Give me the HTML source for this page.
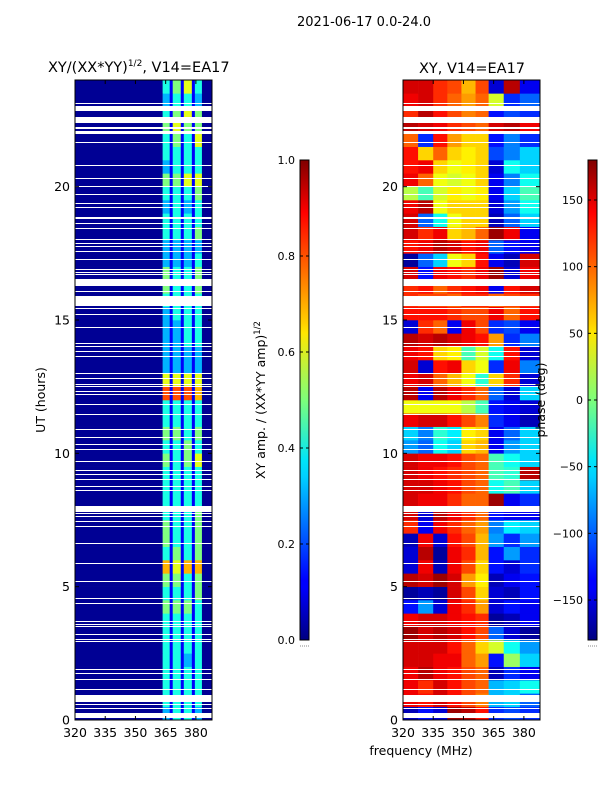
<!DOCTYPE html>
<html><head><meta charset="utf-8"><style>
body{margin:0;background:#fff;}
svg text{font-family:"DejaVu Sans","Liberation Sans",sans-serif;}
</style></head><body>
<svg id="fig" width="600" height="800" xmlns="http://www.w3.org/2000/svg">
<defs>
<linearGradient id="jetv" x1="0" y1="1" x2="0" y2="0">
<stop offset="0" stop-color="#000080"/><stop offset="0.11" stop-color="#0000ff"/><stop offset="0.125" stop-color="#0000ff"/>
<stop offset="0.34" stop-color="#00d0ff"/><stop offset="0.375" stop-color="#00e5f8"/><stop offset="0.5" stop-color="#7dff7a"/>
<stop offset="0.64" stop-color="#ffe600"/><stop offset="0.66" stop-color="#ffd000"/><stop offset="0.89" stop-color="#ff0000"/><stop offset="1" stop-color="#800000"/>
</linearGradient>
</defs>
<text x="364" y="26" font-size="13" text-anchor="middle">2021-06-17 0.0-24.0</text>
<g id="amp"></g>
<g id="phs"></g>
<g id="axes"></g>
</svg>
<script>
// ---- data ----
const freqMin = 320, freqMax = 388;
const hourMin = 0, hourMax = 24;
const xTicks = [320, 335, 350, 365, 380];
const yTicks = [0, 5, 10, 15, 20];
const ampTicks = [0.0, 0.2, 0.4, 0.6, 0.8, 1.0];
const phaseTicks = [-150, -100, -50, 0, 50, 100, 150];
// amplitude frequency bins (MHz edges)
const ampBinEdges = [320, 363.5, 367, 368.5, 372.5, 374, 378, 379.5, 383, 388];
// half-hour rows (0-0.5h first): 4 bright sub-band values (tenths)
const ampRows = [
"3443","4444","4444","4444","4434","4444","4444","4444","5554","4445","5545","7677","4545","5445","5445","4445","4444","4444","4444","5456","4454","5545","4444","4444",
"8887","6666","3333","3333","3344","3344","3444","4444","5445","5445","3334","3333","4445","4444","3434","4445","5566","3444","4444","4546","5655","4565","3443","4564"
];
const ampDark = [0.02, 0.12, 0.12, 0.12, 0.02];
const phaseBinEdges = [320, 327.5, 335, 342, 349, 356, 362.5, 370, 378, 388];
const phaseRows = [
[-160,-130,-150,170,160,130,-120,-110,-120],
[140,130,150,130,110,90,-70,-60,-100],
[140,120,150,130,110,100,-70,-60,-40],
[140,160,140,130,110,100,-160,-120,-140],
[150,150,140,140,100,80,-130,10,-60],
[150,150,150,130,100,60,30,-40,-80],
[170,150,160,150,130,110,-100,-150,-170],
[140,150,150,140,130,120,-170,-160,-140],
[-130,-80,-150,140,120,80,-150,-130,-140],
[-170,-160,-170,150,110,60,-150,-160,-130],
[160,150,170,150,80,50,-160,-140,-130],
[-150,140,-160,140,110,60,-130,-150,-120],
[-150,160,-170,140,120,70,-130,-80,-120],
[-160,140,-150,130,110,70,-80,-120,-80],
[120,-140,140,120,100,80,-90,-50,-60],
[150,-150,160,140,120,100,-130,-140,-140],
[150,140,140,120,100,100,170,-140,-120],
[150,150,140,130,110,100,-40,-20,-60],
[150,140,130,120,110,100,-20,-30,160],
[150,140,140,130,110,100,-20,-40,-60],
[-80,-100,-40,-60,60,70,-140,-80,-60],
[-60,-90,-30,-50,50,60,-140,-100,-60],
[140,150,150,130,110,90,-120,-140,-160],
[40,40,40,40,20,-20,-130,-140,-150],
[160,-140,160,140,120,100,-100,-150,-60],
[140,150,100,70,40,-30,60,120,-150],
[150,-150,130,140,60,40,-120,140,-90],
[140,130,60,50,-20,30,-40,130,-150],
[160,150,160,150,140,130,80,-120,-90],
[-150,120,100,-140,140,110,-120,-110,-140],
[130,130,130,120,110,110,140,100,130],
[120,110,110,100,120,120,100,110,120],
[120,130,100,120,130,140,-140,130,150],
[150,-130,140,130,120,140,170,-150,140],
[-170,-100,-60,40,60,130,-140,-160,150],
[130,140,160,150,130,140,-100,-130,-140],
[150,120,140,60,70,100,170,140,-140],
[150,-100,-40,40,60,60,-160,-100,-60],
[140,160,40,60,60,60,-150,-80,-40],
[20,-20,30,50,40,50,-140,-60,-20],
[140,100,40,30,40,60,-140,-90,-40],
[130,140,60,40,50,60,-150,-40,-60],
[130,60,100,60,50,60,-110,-90,-60],
[100,-120,130,80,60,60,-130,-90,-120],
[160,150,140,120,110,100,150,160,140],
[120,160,130,110,90,100,-130,-110,-120],
[140,150,120,100,80,100,30,-120,-100],
[150,150,120,110,70,110,-150,160,-140]
];
// flagged (blank) times: [center hour, thickness hours]
const gaps = [[23.10,0.05],[22.93,0.18],[22.51,0.22],[22.21,0.08],[22.04,0.12],[21.66,0.05],[20.78,0.05],[20.31,0.05],[20.0,0.05],[19.69,0.05],[19.38,0.05],[19.2,0.04],[18.84,0.06],[18.63,0.05],[18.41,0.05],[18.0,0.05],[17.88,0.04],[17.75,0.04],[17.56,0.05],[17.25,0.05],[16.88,0.04],[16.78,0.04],[16.69,0.04],[16.41,0.25],[16.06,0.05],[15.71,0.38],[15.44,0.05],[15.19,0.05],[14.72,0.05],[14.13,0.05],[14.0,0.04],[13.81,0.05],[13.63,0.05],[13.0,0.05],[12.81,0.05],[12.59,0.04],[12.49,0.04],[12.31,0.05],[12.19,0.04],[11.81,0.05],[11.44,0.05],[10.9,0.05],[10.6,0.05],[10.31,0.05],[10.13,0.04],[9.69,0.05],[9.35,0.04],[9.19,0.04],[9.0,0.05],[8.75,0.04],[8.6,0.04],[7.92,0.22],[7.75,0.05],[7.63,0.04],[7.44,0.05],[7.25,0.05],[6.6,0.05],[5.88,0.05],[5.19,0.05],[4.56,0.05],[4.38,0.04],[3.69,0.04],[3.59,0.04],[3.5,0.04],[3.21,0.05],[3.03,0.04],[2.94,0.04],[1.90,0.05],[1.73,0.05],[1.5,0.05],[1.15,0.05],[0.82,0.25],[0.56,0.05],[0.44,0.05],[0.16,0.2]];

// ---- layout ----
const NS = "http://www.w3.org/2000/svg";
const P1 = {x0:75, x1:212, y0:80, y1:720};
const P2 = {x0:403, x1:540, y0:80, y1:720};
function xs(p, f){ return p.x0 + (f - freqMin) / (freqMax - freqMin) * (p.x1 - p.x0); }
function ys(p, h){ return p.y1 - (h - hourMin) / (hourMax - hourMin) * (p.y1 - p.y0); }
function jet(v){
  v = Math.max(0, Math.min(1, v));
  const r = Math.max(0, Math.min(1, 1.5 - Math.abs(4*v - 3)));
  const g = Math.max(0, Math.min(1, 1.5 - Math.abs(4*v - 2)));
  const b = Math.max(0, Math.min(1, 1.5 - Math.abs(4*v - 1)));
  return `rgb(${Math.round(r*255)},${Math.round(g*255)},${Math.round(b*255)})`;
}
function mk(tag, attrs, parent){
  const e = document.createElementNS(NS, tag);
  for (const k in attrs) e.setAttribute(k, attrs[k]);
  parent.appendChild(e); return e;
}
const amp = document.getElementById('amp');
const phs = document.getElementById('phs');
const axes = document.getElementById('axes');
const rowH = (hourMax - hourMin) / ampRows.length;

ampRows.forEach((row, i) => {
  const h0 = i * rowH, h1 = h0 + rowH;
  const vals = [ampDark[0], +row[0]/10, ampDark[1], +row[1]/10, ampDark[2], +row[2]/10, ampDark[3], +row[3]/10, ampDark[4]];
  vals.forEach((v, j) => {
    const xa = xs(P1, ampBinEdges[j]), xb = xs(P1, ampBinEdges[j+1]);
    const r = mk('rect', {x:xa, y:ys(P1,h1), width:xb-xa+0.3, height:ys(P1,h0)-ys(P1,h1)+0.3, fill:jet(v)}, amp);
    
    
  });
});
phaseRows.forEach((row, i) => {
  const h0 = i * rowH, h1 = h0 + rowH;
  row.forEach((v, j) => {
    const xa = xs(P2, phaseBinEdges[j]), xb = xs(P2, phaseBinEdges[j+1]);
    const r = mk('rect', {x:xa, y:ys(P2,h1), width:xb-xa+0.3, height:ys(P2,h0)-ys(P2,h1)+0.3, fill:jet((v+180)/360)}, phs);
    
    
  });
});
gaps.forEach(g => {
  [P1, P2].forEach(p => {
    const yt = Math.round(ys(p, g[0]+g[1]/2));
    const hh = Math.max(1, Math.round(ys(p,g[0]-g[1]/2) - ys(p,g[0]+g[1]/2)));
    const r = mk('rect', {x:p.x0, y:yt, width:p.x1-p.x0, height:hh, fill:'#fff'}, p===P1?amp:phs);
    
    
  });
});

function text(str, attrs, name){
  const t = mk('text', attrs, axes); t.textContent = str;
  
  
  return t;
}
[P1, P2].forEach((p, k) => {
  const f = mk('rect', {x:p.x0, y:p.y0, width:p.x1-p.x0, height:p.y1-p.y0, fill:'none', stroke:'#000', 'stroke-width':1}, axes);
  
  
  xTicks.forEach(t => {
    const x = xs(p, t);
    mk('line', {x1:x, x2:x, y1:p.y1, y2:p.y1-4, stroke:'#000'}, axes);
    mk('line', {x1:x, x2:x, y1:p.y0, y2:p.y0+4, stroke:'#000'}, axes);
    text(String(t), {x:x, y:p.y1+17, 'font-size':12.5, 'text-anchor':'middle'}, 'x-tick-label');
  });
  yTicks.forEach(t => {
    const y = ys(p, t);
    mk('line', {x1:p.x0, x2:p.x0+4, y1:y, y2:y, stroke:'#000'}, axes);
    mk('line', {x1:p.x1, x2:p.x1-4, y1:y, y2:y, stroke:'#000'}, axes);
    text(String(t), {x:p.x0-5, y:y+4.5, 'font-size':12.5, 'text-anchor':'end'}, 'y-tick-label');
  });
});
text('XY/(XX*YY)', {x:48, y:72, 'font-size':14.5}, 'amp-panel-title').innerHTML = 'XY/(XX*YY)<tspan dy="-6" font-size="9">1/2</tspan><tspan dy="6">, V14=EA17</tspan>';
text('XY, V14=EA17', {x:472, y:73, 'font-size':14.5, 'text-anchor':'middle'}, 'phase-panel-title');
text('UT (hours)', {x:45, y:400, 'font-size':12.5, 'text-anchor':'middle', transform:'rotate(-90 45 400)'}, 'y-axis-title');
text('frequency (MHz)', {x:421, y:755, 'font-size':12.5, 'text-anchor':'middle'}, 'x-axis-title');
text('', {x:265, y:400, 'font-size':12.5, 'text-anchor':'middle', transform:'rotate(-90 265 400)'}, 'amp-colorbar-label').innerHTML = 'XY amp. / (XX*YY amp)<tspan dy="-5" font-size="8.5">1/2</tspan>';
text('phase (deg)', {x:545, y:400, 'font-size':12.5, 'text-anchor':'middle', transform:'rotate(-90 545 400)'}, 'phase-colorbar-label');

// colorbars
const CB1 = {x:300, w:9, y0:160, y1:640}, CB2 = {x:588, w:9, y0:160, y1:640};
[[CB1, ampTicks, 0, 1, 'amp-colorbar'], [CB2, phaseTicks, -180, 180, 'phase-colorbar']].forEach(([c, ticks, lo, hi, nm]) => {
  const r = mk('rect', {x:c.x, y:c.y0, width:c.w, height:c.y1-c.y0, fill:'url(#jetv)', stroke:'#000', 'stroke-width':1}, axes);
  
  
  mk('line', {x1:c.x, x2:c.x+c.w, y1:c.y1+6, y2:c.y1+6, stroke:'#888', 'stroke-dasharray':'1 1'}, axes);
  ticks.forEach(t => {
    const y = c.y1 - (t - lo) / (hi - lo) * (c.y1 - c.y0);
    mk('line', {x1:c.x, x2:c.x+3, y1:y, y2:y, stroke:'#000'}, axes);
    mk('line', {x1:c.x+c.w, x2:c.x+c.w-3, y1:y, y2:y, stroke:'#000'}, axes);
    const s = hi === 1 ? t.toFixed(1) : (t < 0 ? '\u2212' + Math.abs(t) : String(t));
    text(s, {x:c.x-5, y:y+4, 'font-size':11, 'text-anchor':'end'}, 'colorbar-tick-label');
  });
});
</script>
</body></html>
